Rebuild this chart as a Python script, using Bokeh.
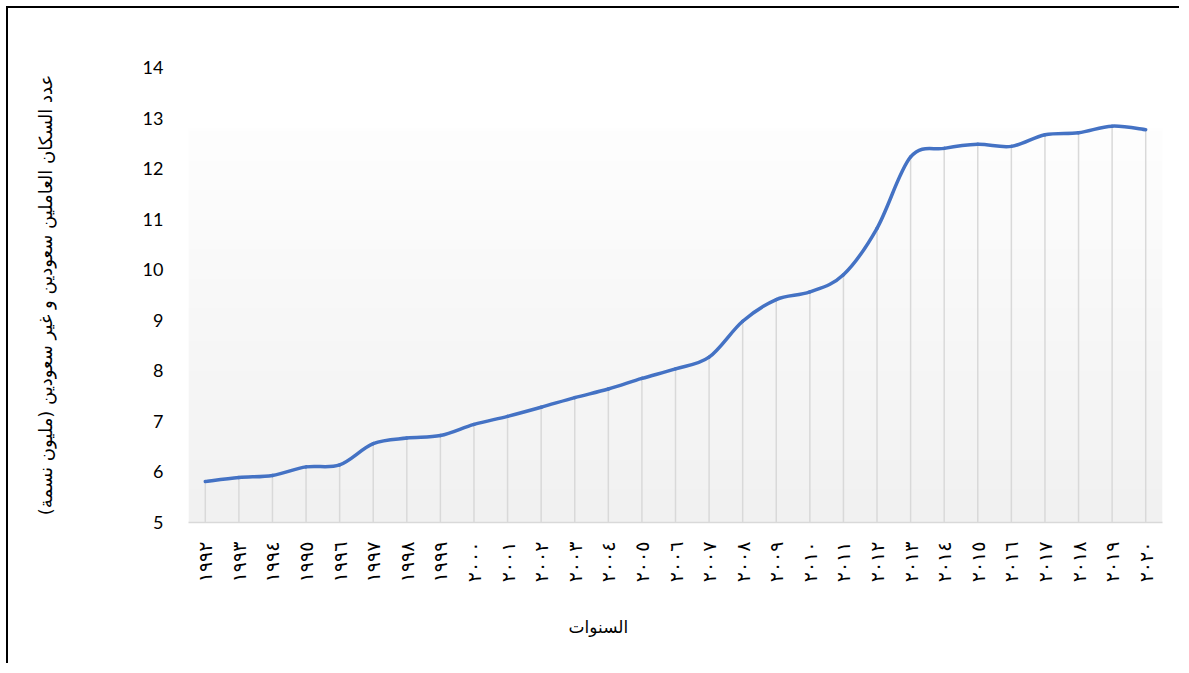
import numpy as np
from bokeh.plotting import figure
from bokeh.models import Range1d, FixedTicker, Title
from bokeh.embed import file_html
from bokeh.resources import INLINE

# ---- data ----
years = list(range(1992, 2021))
workers_millions = [5.81, 5.89, 5.93, 6.10, 6.14, 6.56, 6.67, 6.72, 6.94, 7.10,
                    7.28, 7.47, 7.64, 7.85, 8.04, 8.27, 8.98, 9.41, 9.56, 9.90,
                    10.82, 12.23, 12.40, 12.48, 12.44, 12.67, 12.71, 12.84, 12.77]
year_labels = ["١٩٩٢", "١٩٩٣", "١٩٩٤", "١٩٩٥", "١٩٩٦", "١٩٩٧", "١٩٩٨", "١٩٩٩",
               "٢٠٠٠", "٢٠٠١", "٢٠٠٢", "٢٠٠٣", "٢٠٠٤", "٢٠٠٥", "٢٠٠٦", "٢٠٠٧",
               "٢٠٠٨", "٢٠٠٩", "٢٠١٠", "٢٠١١", "٢٠١٢", "٢٠١٣", "٢٠١٤", "٢٠١٥",
               "٢٠١٦", "٢٠١٧", "٢٠١٨", "٢٠١٩", "٢٠٢٠"]
y_ticks = [5, 6, 7, 8, 9, 10, 11, 12, 13, 14]
x_title = "السنوات"
y_title = "عدد السكان العاملين سعودين و غير سعودين (مليون نسمة)"

W, H = 1173, 657
p = figure(width=W, height=H, output_backend="svg", toolbar_location=None,
           x_range=Range1d(1991.5, 2020.5), y_range=Range1d(5, 14),
           min_border_left=180, min_border_right=19,
           min_border_top=59, min_border_bottom=141)
p.styles = {"border-top": "2px solid black", "border-left": "2px solid black",
            "margin-top": "6px", "margin-left": "6px"}
p.outline_line_color = None
p.background_fill_color = "white"
p.border_fill_color = "white"
p.xgrid.visible = False
p.ygrid.visible = False

# gradient backdrop of the plot area (white at top to light gray at bottom)
n = 120
t = np.linspace(0, 1, n)
top_c, bot_c = 254, 241
vals = (bot_c + (top_c - bot_c) * t).astype(np.uint32)
img = np.empty((n, 1), dtype=np.uint32)
view = img.view(dtype=np.uint8).reshape((n, 1, 4))
view[:, 0, 0] = vals
view[:, 0, 1] = vals
view[:, 0, 2] = vals
view[:, 0, 3] = 255
p.image_rgba(image=[img], x=1991.5, y=5, dw=29, dh=7.8)

# drop lines
p.segment(x0=years, y0=[5] * len(years), x1=years, y1=workers_millions,
          line_color="#d9d9d9", line_width=1.5)

# smoothed line (Catmull-Rom style cubic Bezier through data points)
xs = np.array(years, dtype=float)
ys = np.array(workers_millions, dtype=float)
px = np.concatenate([[xs[0]], xs, [xs[-1]]])
py = np.concatenate([[ys[0]], ys, [ys[-1]]])
x0, y0, x1, y1, cx0, cy0, cx1, cy1 = [], [], [], [], [], [], [], []
for i in range(len(xs) - 1):
    a, b, c, d = i, i + 1, i + 2, i + 3
    x0.append(px[b]); y0.append(py[b])
    x1.append(px[c]); y1.append(py[c])
    cx0.append(px[b] + (px[c] - px[a]) / 6); cy0.append(py[b] + (py[c] - py[a]) / 6)
    cx1.append(px[c] - (px[d] - px[b]) / 6); cy1.append(py[c] - (py[d] - py[b]) / 6)
p.bezier(x0=x0, y0=y0, x1=x1, y1=y1, cx0=cx0, cy0=cy0, cx1=cx1, cy1=cy1,
         line_color="#4472c4", line_width=3.5, line_cap="round")

# x axis
xa = p.xaxis[0]
xa.ticker = FixedTicker(ticks=years)
xa.major_label_overrides = {y: l for y, l in zip(years, year_labels)}
xa.major_label_orientation = np.pi / 2
xa.major_tick_line_color = None
xa.minor_tick_line_color = None
xa.axis_line_color = "#d9d9d9"
xa.axis_line_width = 1.5
xa.major_label_standoff = 13
xa.major_label_text_font = "DejaVu Sans"
xa.major_label_text_font_size = "19px"
xa.major_label_text_color = "black"

# x axis title (sits left of centre in the reference)
p.add_layout(Title(text=x_title, align="left", offset=380, standoff=58,
                   text_font="DejaVu Sans", text_font_size="17px",
                   text_font_style="normal", text_color="black"), "below")

# y axis
ya = p.yaxis[0]
ya.ticker = FixedTicker(ticks=y_ticks)
ya.axis_line_color = None
ya.major_tick_line_color = None
ya.minor_tick_line_color = None
ya.major_label_standoff = 19
ya.major_label_text_font = "Lato"
ya.major_label_text_font_size = "18px"
ya.major_label_text_color = "black"
ya.axis_label = y_title
ya.axis_label_text_font = "DejaVu Sans"
ya.axis_label_text_font_size = "18px"
ya.axis_label_text_font_style = "normal"
ya.axis_label_text_color = "black"
ya.axis_label_standoff = 84

open("out.html", "w").write(file_html(p, INLINE))
